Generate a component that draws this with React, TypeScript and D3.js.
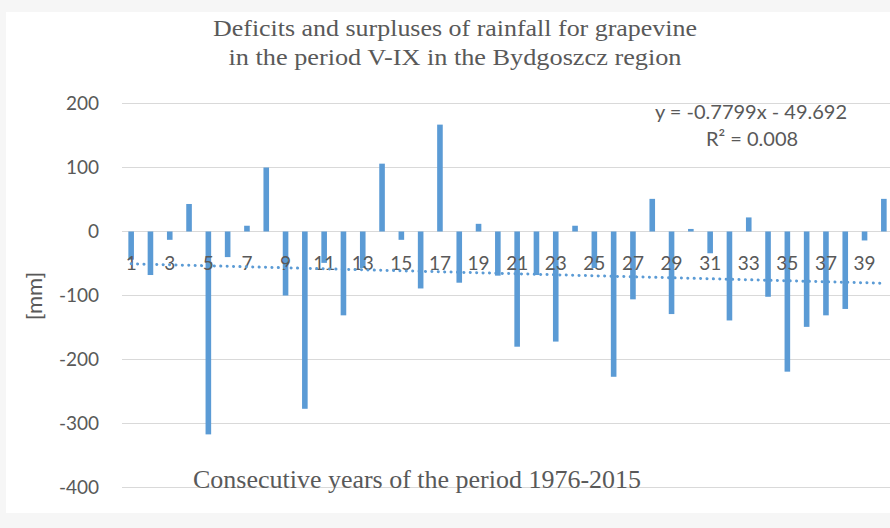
import React from 'react'
import * as d3 from 'd3'

// rainfall deficit / surplus [mm], years 1..40 (1976-2015)
const years = d3.range(1, 41)
const values = [
  -44, -68, -13, 43, -317, -40, 9, 100, -100, -277,
  -49, -131, -57, 106, -13, -89, 167, -80, 12, -69,
  -180, -68, -172, 9, -57, -227, -106, 51, -129, 4,
  -34, -139, 22, -102, -219, -149, -131, -121, -14, 51,
]
const yTicks = [200, 100, 0, -100, -200, -300, -400]
// trend line shown in the chart: y = a*x + b
const trendA = -0.7799
const trendB = -49.692

const W = 890
const H = 528

export default function App() {
  const x = d3.scaleBand<number>().domain(years).range([121.5, 893.5])
  const y = d3.scaleLinear().domain([-400, 200]).range([487.5, 103.5])
  const cx = (d: number) => (x(d) ?? 0) + x.bandwidth() / 2
  const barW = x.bandwidth() * 0.29

  const trend = d3.line<number>()
    .x(d => cx(d))
    .y(d => y(trendA * d + trendB))

  const grey = '#595959'
  const blue = '#5b9bd5'
  const sans = 'Lato, "Open Sans", sans-serif'
  const serif = '"Liberation Serif", "DejaVu Serif", serif'

  return (
    <svg width={W} height={H} style={{ position: 'absolute', left: 0, top: 0 }}>
      <rect x={0} y={0} width={W} height={H} fill="#f6f6f6" />
      <rect x={6} y={12} width={W - 6} height={501} fill="#ffffff" />

      {/* title */}
      <text x={455} y={36} textAnchor="middle" fontFamily={serif} fontSize={24} fill={grey}
        textLength={484} lengthAdjust="spacingAndGlyphs">
        Deficits and surpluses of rainfall for grapevine
      </text>
      <text x={455} y={65} textAnchor="middle" fontFamily={serif} fontSize={24} fill={grey}
        textLength={453} lengthAdjust="spacingAndGlyphs">
        in the period V-IX in the Bydgoszcz region
      </text>

      {/* grid + y ticks */}
      {yTicks.map(t => (
        <g key={t}>
          <line x1={122} x2={W} y1={y(t)} y2={y(t)} stroke="#d9d9d9" strokeWidth={1} />
          <text x={99} y={y(t)} dy="0.35em" textAnchor="end" fontFamily={sans} fontSize={19} fill={grey}>
            {t}
          </text>
        </g>
      ))}

      <text transform={`translate(42,296) rotate(-90)`} textAnchor="middle" fontFamily={sans}
        fontSize={22} fill={grey}>
        [mm]
      </text>

      {/* bars */}
      {years.map((d, i) => (
        <rect key={d} x={cx(d) - barW / 2} width={barW}
          y={Math.min(y(values[i]), y(0))}
          height={Math.abs(y(values[i]) - y(0))}
          fill={blue} />
      ))}

      {/* category labels */}
      {years.filter(d => d % 2 === 1).map(d => (
        <text key={d} x={cx(d)} y={263} dy="0.35em" textAnchor="middle" fontFamily={sans}
          fontSize={19} fill={grey}>
          {d}
        </text>
      ))}

      {/* trend */}
      <path d={trend([years[0], years[years.length - 1]]) ?? ''} fill="none" stroke={blue}
        strokeWidth={3} strokeDasharray="0.1 6.3" strokeLinecap="round" />

      <text x={751} y={112} dy="0.35em" textAnchor="middle" fontFamily={sans} fontSize={20} fill={grey}>
        y = -0.7799x - 49.692
      </text>
      <text x={752} y={139} dy="0.35em" textAnchor="middle" fontFamily={sans} fontSize={20} fill={grey}>
        R² = 0.008
      </text>

      <text x={193} y={488} fontFamily={serif} fontSize={25} fill={grey}
        textLength={448} lengthAdjust="spacingAndGlyphs">
        Consecutive years of the period 1976-2015
      </text>
    </svg>
  )
}
